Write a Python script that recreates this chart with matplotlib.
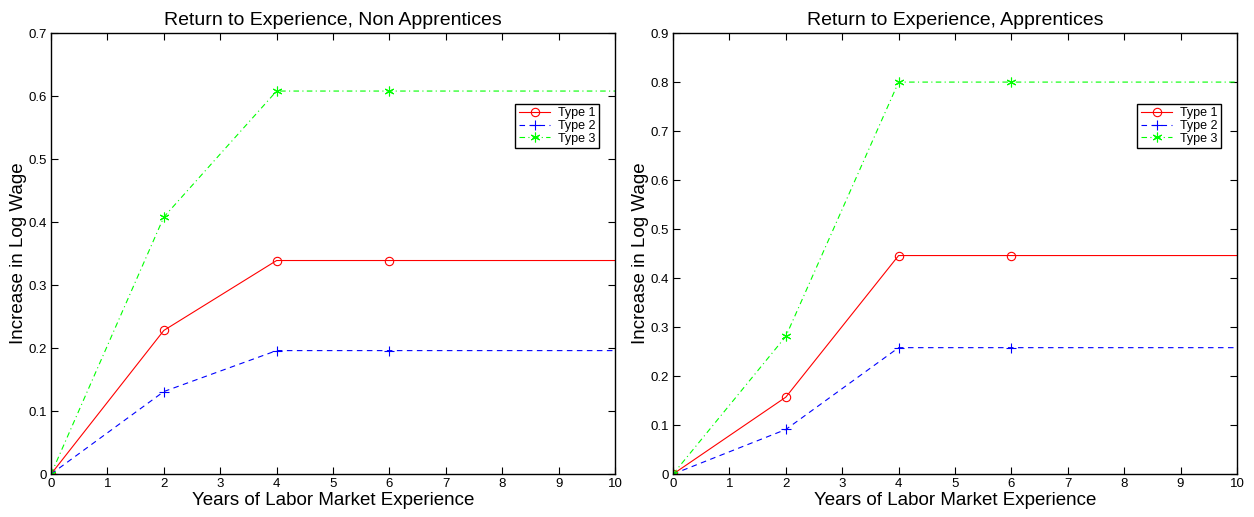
import matplotlib.pyplot as plt

plt.rcParams["font.family"] = ["Liberation Sans", "DejaVu Sans"]

# years of experience at which returns are evaluated
years = [0, 2, 4, 6, 10]

non_app_type1 = [0.0, 0.228, 0.339, 0.339, 0.339]
non_app_type2 = [0.0, 0.131, 0.196, 0.196, 0.196]
non_app_type3 = [0.0, 0.408, 0.608, 0.608, 0.608]

app_type1 = [0.0, 0.157, 0.446, 0.446, 0.446]
app_type2 = [0.0, 0.091, 0.258, 0.258, 0.258]
app_type3 = [0.0, 0.281, 0.800, 0.800, 0.800]

panel_titles = ["Return to Experience, Non Apprentices", "Return to Experience, Apprentices"]
series_labels = ["Type 1", "Type 2", "Type 3"]
y_tops = [0.7, 0.9]

styles = [
    dict(color="#ff0000", linestyle="-", marker="o", markersize=6, markerfacecolor="none"),
    dict(color="#0000ff", linestyle=(0, (5, 4)), marker="+", markersize=7),
    dict(color="#00ff00", linestyle=(0, (5, 3, 1, 3)), marker=(6, 2, 0), markersize=7),
]

fig = plt.figure(figsize=(12.54, 5.17), dpi=100)
axes = [
    fig.add_axes([0.0407, 0.083, 0.4497, 0.853]),
    fig.add_axes([0.5367, 0.083, 0.4497, 0.853]),
]

panels = [
    [non_app_type1, non_app_type2, non_app_type3],
    [app_type1, app_type2, app_type3],
]

for ax, title, series, ytop in zip(axes, panel_titles, panels, y_tops):
    for values, label, style in zip(series, series_labels, styles):
        ax.plot(years, values, label=label, linewidth=0.8, markeredgewidth=0.8,
                markevery=[0, 1, 2, 3], **style)
    ax.set_xlim(0, 10)
    ax.set_ylim(0, ytop)
    ax.set_xticks(range(0, 11))
    ax.set_yticks([round(0.1 * i, 1) for i in range(int(round(ytop * 10)) + 1)])
    ax.set_yticklabels(["0"] + [f"{0.1 * i:.1f}" for i in range(1, int(round(ytop * 10)) + 1)])
    ax.tick_params(direction="in", top=True, right=True, labelsize=9.5, length=5, width=0.8, pad=3)
    for spine in ax.spines.values():
        spine.set_linewidth(1.0)
    ax.set_title(title, fontsize=14, pad=6)
    ax.set_xlabel("Years of Labor Market Experience", fontsize=13.5, labelpad=1)
    ax.set_ylabel("Increase in Log Wage", fontsize=13.5, labelpad=1)
    leg = ax.legend(loc="upper right", bbox_to_anchor=(0.972, 0.84), fontsize=9,
                    fancybox=False, framealpha=1, edgecolor="black", borderpad=0.3,
                    labelspacing=0.05, handlelength=2.5, handletextpad=0.6, borderaxespad=0)
    leg.get_frame().set_linewidth(1.0)

fig.savefig("out.png", dpi=100)
